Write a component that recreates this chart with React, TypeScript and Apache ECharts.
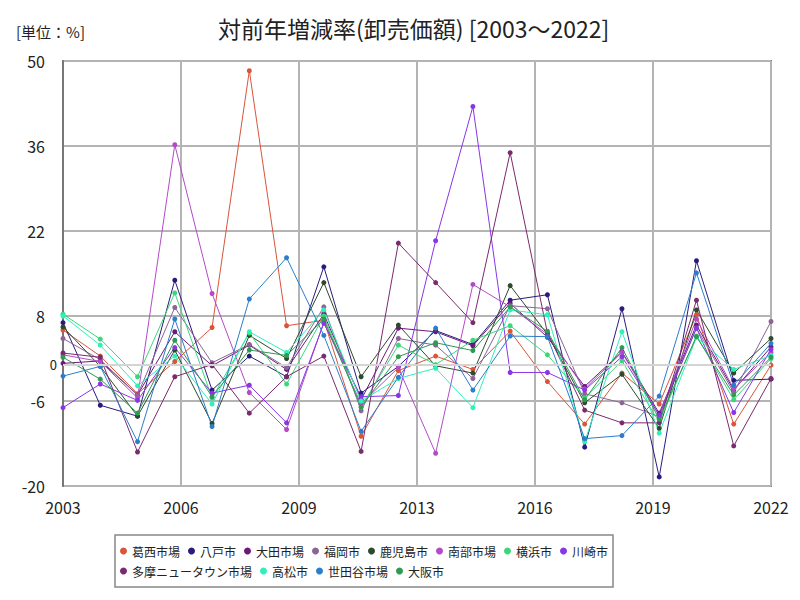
import React, { useEffect, useRef } from "react";
import * as echarts from "echarts";

const years = [2003, 2004, 2005, 2006, 2007, 2008, 2009, 2010, 2011, 2012, 2013, 2014, 2015, 2016, 2017, 2018, 2019, 2020, 2021, 2022];

const seriesNames = ["葛西市場", "八戸市", "大田市場", "福岡市", "鹿児島市", "南部市場", "横浜市", "川崎市", "多摩ニュータウン市場", "高松市", "世田谷市場", "大阪市"];

const kasai = [5.7, 1.4, -4.8, 0.5, 6.1, 48.4, 6.4, 7.3, -11.8, -1.0, 1.4, -0.8, 5.5, -2.8, -9.8, -1.4, -6.5, 8.2, -9.8, -0.1];
const hachinohe = [6.9, -6.7, -8.5, 13.9, -4.2, 1.4, -2.0, 16.1, -4.7, -0.3, 5.6, 3.3, 10.6, 11.5, -13.6, 9.2, -18.5, 17.1, -2.6, -2.4];
const ota = [0.2, 0.6, -5.0, 5.4, -0.2, 3.2, -0.8, 8.3, -5.8, 6.0, 5.4, 3.1, 10.1, 4.5, -3.6, 2.1, -8.0, 6.5, -4.2, 2.9];
const fukuoka = [4.3, 0.8, -5.0, 9.4, 0.3, 3.3, -0.5, 9.5, -7.6, 4.3, 3.2, -2.3, 9.7, 9.2, -4.8, -6.3, -8.6, 6.0, -4.6, 7.1];
const kagoshima = [6.2, -0.3, -8.5, 2.4, -9.7, 4.8, 1.0, 13.5, -2.0, 6.5, -0.2, -1.4, 13.0, 5.0, -6.3, -1.6, -10.5, 9.0, -1.4, 4.3];
const nanbu = [1.6, 0.5, -5.5, 36.2, 11.7, -4.6, -10.7, 7.0, -6.5, -0.5, -14.6, 13.2, 9.5, 5.0, -4.0, 2.0, -8.4, 7.5, -4.0, 2.0];
const yokohama = [8.3, 4.2, -2.0, 11.8, -5.5, 5.2, -3.2, 8.0, -7.0, 3.2, 0.0, 4.0, 6.4, 1.6, -5.5, 0.6, -9.5, 4.7, -5.8, 1.0];
const kawasaki = [-7.1, -3.2, -5.9, 2.8, -4.7, -3.4, -9.6, 6.8, -5.3, -5.1, 20.4, 42.5, -1.3, -1.3, -4.2, 1.3, -8.3, 6.0, -7.9, 2.5];
const tama = [1.9, 1.2, -14.4, -2.0, 0.0, -8.0, -2.0, 1.4, -14.3, 20.0, 13.5, 6.9, 34.9, 5.2, -7.5, -9.6, -9.6, 10.6, -13.4, -2.3];
const takamatsu = [8.0, 3.2, -3.5, 1.4, -6.5, 5.4, 2.0, 9.0, -6.0, -2.3, -0.6, -7.1, 9.0, 8.2, -12.7, 5.4, -11.3, 4.5, -0.8, 1.5];
const setagaya = [-1.9, -0.3, -12.7, 7.5, -10.2, 10.8, 17.6, 4.8, -11.0, -2.1, 6.0, -4.2, 4.7, 4.6, -12.2, -11.7, -5.2, 15.1, -3.4, 3.5];
const osaka = [1.2, -2.4, -8.0, 4.0, -5.3, 2.4, 1.5, 7.5, -7.0, 1.3, 3.6, 2.3, 9.5, 5.5, -5.8, 2.8, -9.0, 4.6, -5.0, 1.2];

const seriesValues = [kasai, hachinohe, ota, fukuoka, kagoshima, nanbu, yokohama, kawasaki, tama, takamatsu, setagaya, osaka];
const seriesColors = ["#d9543a", "#2b1a7e", "#6a1b78", "#8c6496", "#2d4a2d", "#b44ac8", "#3dd67a", "#8a35e6", "#7a2a6e", "#2ef0b8", "#2a7ecb", "#2e9a52"];

const yTicks = { min: -20, max: 50, interval: 14 };
const xLabelCount = 6;

const FONT = "'Noto Sans CJK JP', 'Noto Sans', sans-serif";

export default function App() {
  const ref = useRef<HTMLDivElement>(null);
  useEffect(() => {
    if (!ref.current) return;
    const chart = echarts.init(ref.current, undefined, { renderer: "svg" });
    const first = years[0];
    const span = years[years.length - 1] - first;
    const series: any[] = seriesNames.map((name, si) => ({
      name,
      type: "line",
      data: years.map((y, i) => [y - first, seriesValues[si][i]]),
      symbol: "circle",
      symbolSize: 5,
      lineStyle: { width: 1, color: seriesColors[si] },
      itemStyle: { color: seriesColors[si] },
      z: 3,
    }));
    series.push({
      name: "zero",
      type: "line",
      data: [],
      silent: true,
      z: 1,
      markLine: {
        silent: true,
        symbol: "none",
        lineStyle: { color: "#d4d4d4", width: 2, type: "solid" },
        label: { position: "start", formatter: "0", fontSize: 13, color: "#222", fontFamily: FONT, distance: 6 },
        data: [{ yAxis: 0 }],
      },
    });
    chart.setOption({
      animation: false,
      backgroundColor: "#fff",
      textStyle: { fontFamily: FONT },
      title: [
        {
          text: "対前年増減率(卸売価額) [2003～2022]",
          left: 213,
          top: 11,
          textStyle: { fontSize: 23, fontWeight: "normal", color: "#222", fontFamily: FONT },
        },
        {
          text: "[単位：%]",
          left: 11,
          top: 19,
          textStyle: { fontSize: 15, fontWeight: "normal", color: "#222", fontFamily: FONT },
        },
      ],
      color: seriesColors,
      grid: {
        left: 63,
        right: 29,
        top: 61,
        bottom: 114,
        show: true,
        borderColor: "#777",
        borderWidth: 2,
      },
      legend: {
        data: seriesNames,
        left: 115,
        top: 535,
        width: 505,
        padding: [10, 5, 10, 5],
        itemGap: 8,
        itemWidth: 7,
        itemHeight: 7,
        icon: "circle",
        borderColor: "#888",
        borderWidth: 1.5,
        textStyle: { fontSize: 12, color: "#222", fontFamily: FONT },
      },
      xAxis: {
        type: "value",
        min: 0,
        max: span,
        interval: span / xLabelCount,
        axisLine: { show: true, lineStyle: { color: "#777", width: 2 } },
        axisTick: { show: false },
        axisLabel: {
          fontSize: 16,
          color: "#222",
          margin: 13,
          formatter: (v: number) => String(Math.round(first + v)),
        },
        splitLine: { show: true, lineStyle: { color: "#b4b4b4", width: 2 } },
      },
      yAxis: {
        type: "value",
        min: yTicks.min,
        max: yTicks.max,
        interval: yTicks.interval,
        axisLine: { show: true, lineStyle: { color: "#777", width: 2 } },
        axisTick: { show: false },
        axisLabel: { fontSize: 16, color: "#222", margin: 18 },
        splitLine: { show: true, lineStyle: { color: "#b4b4b4", width: 2 } },
      },
      series,
    });
    return () => chart.dispose();
  }, []);
  return <div ref={ref} style={{ position: "absolute", left: 0, top: 0, width: 800, height: 600 }} />;
}
